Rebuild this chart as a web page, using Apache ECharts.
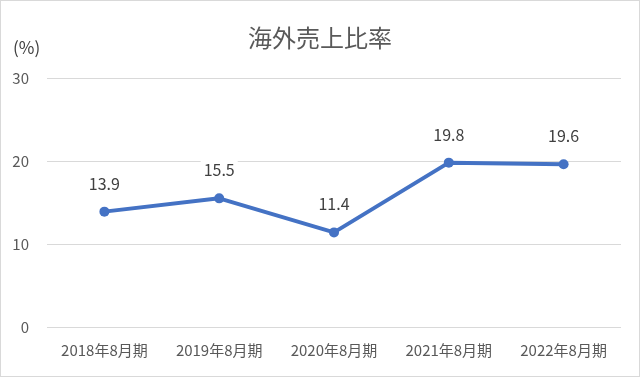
<!DOCTYPE html>
<html><head><meta charset="utf-8">
<script src="https://cdn.jsdelivr.net/npm/echarts@6/dist/echarts.min.js"></script>
<style>html,body{margin:0;padding:0;background:#fff}#c{width:638px;height:375px;border:1px solid #d9d9d9;}</style>
</head><body><div id="c"></div>
<script>
var categories = ['2018年8月期','2019年8月期','2020年8月期','2021年8月期','2022年8月期'];
var values = [13.9, 15.5, 11.4, 19.8, 19.6];
var yTicks = [0, 10, 20, 30];
var title = '海外売上比率';
var unit = '(%)';
var font = '"Noto Sans CJK JP", "Noto Sans", sans-serif';
var chart = echarts.init(document.getElementById('c'));
chart.setOption({
  animation: false,
  title: {text: title, left: 'center', top: 20, textStyle: {fontFamily: font, fontSize: 24, fontWeight: 'normal', color: '#595959'}},
  grid: {left: 46, right: 18, top: 77, bottom: 49},
  xAxis: {type: 'category', data: categories, boundaryGap: true,
    axisLine: {show: false}, axisTick: {show: false},
    axisLabel: {fontFamily: font, fontSize: 15, color: '#595959', margin: 16}},
  yAxis: {type: 'value', min: 0, max: 30, interval: 10,
    name: unit, nameLocation: 'end', nameGap: 22,
    nameTextStyle: {fontFamily: font, fontSize: 17, color: '#404040', align: 'left', padding: [0,0,0,-34]},
    axisLine: {show: false}, axisTick: {show: false},
    axisLabel: {fontFamily: font, fontSize: 15, color: '#595959', margin: 18},
    splitLine: {lineStyle: {color: '#d9d9d9', width: 1}}},
  series: [{type: 'line', data: values, symbol: 'circle', symbolSize: 10,
    lineStyle: {color: '#4472C4', width: 4}, itemStyle: {color: '#4472C4'},
    label: {show: true, position: 'top', distance: 13, fontFamily: font, fontSize: 16, color: '#404040',
      backgroundColor: '#fff', padding: [2,3],
      formatter: function(p){return p.value.toFixed(1);}}}]
});
</script></body></html>
